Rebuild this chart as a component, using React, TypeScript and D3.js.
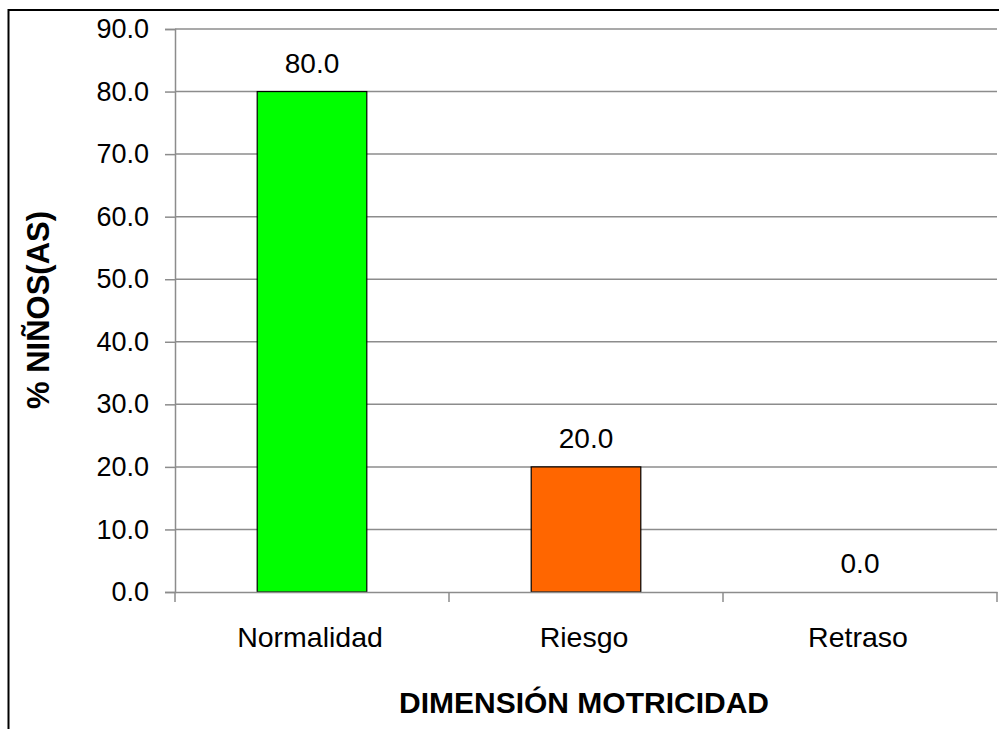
import { useEffect, useRef } from 'react';
import * as d3 from 'd3';

// chart values
const categories = ['Normalidad', 'Riesgo', 'Retraso'];
const values = [80.0, 20.0, 0.0];
const barColors = ['#00FF00', '#FF6600', '#0000FF'];
const yTicks = [0, 10, 20, 30, 40, 50, 60, 70, 80, 90];
const yTitle = '% NIÑOS(AS)';
const xTitle = 'DIMENSIÓN MOTRICIDAD';

export default function App() {
  const svgRef = useRef<SVGSVGElement | null>(null);

  useEffect(() => {
    const svg = d3.select(svgRef.current);
    svg.selectAll('*').remove();

    const width = 999, height = 729;
    const M = { top: 29, right: 2, bottom: 137, left: 175 };
    const font = 'Arial, "Liberation Sans", sans-serif';
    const grid = '#8c8c8c';

    // outer chart border (cropped on right/bottom)
    svg.append('rect')
      .attr('x', 8.5).attr('y', 10)
      .attr('width', 1200).attr('height', 1000)
      .attr('fill', 'white').attr('stroke', '#000').attr('stroke-width', 2);

    const x = d3.scaleBand<string>().domain(categories).range([M.left, width - M.right]).paddingInner(0).paddingOuter(0);
    const y = d3.scaleLinear().domain([0, 90]).range([height - M.bottom, M.top]);

    const g = svg.append('g');

    // gridlines
    g.selectAll('line.grid').data(yTicks.filter(t => t > 0)).join('line')
      .attr('class', 'grid')
      .attr('x1', M.left).attr('x2', width - M.right)
      .attr('y1', d => y(d)).attr('y2', d => y(d))
      .attr('stroke', grid).attr('stroke-width', 1.5);

    // y axis
    g.append('g').attr('transform', `translate(${M.left},0)`)
      .call(d3.axisLeft(y).tickValues(yTicks).tickSize(10).tickPadding(16).tickFormat(d3.format('.1f')))
      .call(ax => {
        ax.select('.domain').attr('stroke', grid).attr('stroke-width', 1.5);
        ax.selectAll('.tick line').attr('stroke', grid).attr('stroke-width', 1.5);
        ax.selectAll('.tick text').attr('fill', '#000').attr('font-size', 27).attr('font-family', font);
      });

    // bars
    g.selectAll('rect.bar').data(values).join('rect')
      .attr('class', 'bar')
      .attr('x', (d, i) => (x(categories[i]) as number) + x.bandwidth() * 0.3)
      .attr('width', x.bandwidth() * 0.4)
      .attr('y', d => y(d))
      .attr('height', d => y(0) - y(d))
      .attr('fill', (d, i) => barColors[i])
      .attr('stroke', d => d > 0 ? '#000' : 'none')
      .attr('stroke-width', 1.2);

    // x axis
    g.append('g').attr('transform', `translate(0,${y(0)})`)
      .call(d3.axisBottom(x).tickSize(0).tickPadding(0).tickFormat(() => ''))
      .call(ax => {
        ax.select('.domain').attr('stroke', grid).attr('stroke-width', 1.5);
        ax.selectAll('.tick').remove();
      });
    const bounds = [...categories.map(c => x(c) as number), width - M.right];
    g.selectAll('line.xtick').data(bounds).join('line')
      .attr('class', 'xtick')
      .attr('x1', d => d).attr('x2', d => d)
      .attr('y1', y(0)).attr('y2', y(0) + 10)
      .attr('stroke', grid).attr('stroke-width', 1.5);

    // category labels
    g.selectAll('text.cat').data(categories).join('text')
      .attr('class', 'cat')
      .attr('x', d => (x(d) as number) + x.bandwidth() / 2 - 2)
      .attr('y', y(0) + 55)
      .attr('text-anchor', 'middle')
      .attr('font-size', 28.5).attr('font-family', font)
      .text(d => d);

    // value labels
    g.selectAll('text.val').data(values).join('text')
      .attr('class', 'val')
      .attr('x', (d, i) => (x(categories[i]) as number) + x.bandwidth() / 2)
      .attr('y', d => y(d) - 19)
      .attr('text-anchor', 'middle')
      .attr('font-size', 28).attr('font-family', font)
      .text(d => d3.format('.1f')(d));

    // axis titles
    svg.append('text')
      .attr('x', 584).attr('y', 713)
      .attr('text-anchor', 'middle')
      .attr('font-size', 30).attr('font-weight', 'bold').attr('font-family', font)
      .text(xTitle);

    svg.append('text')
      .attr('transform', `translate(49,${310}) rotate(-90)`)
      .attr('text-anchor', 'middle')
      .attr('font-size', 31).attr('font-weight', 'bold').attr('font-family', font)
      .text(yTitle);
  }, []);

  return (
    <svg ref={svgRef} width={999} height={729}
      style={{ position: 'absolute', left: 0, top: 0, background: 'white' }} />
  );
}
